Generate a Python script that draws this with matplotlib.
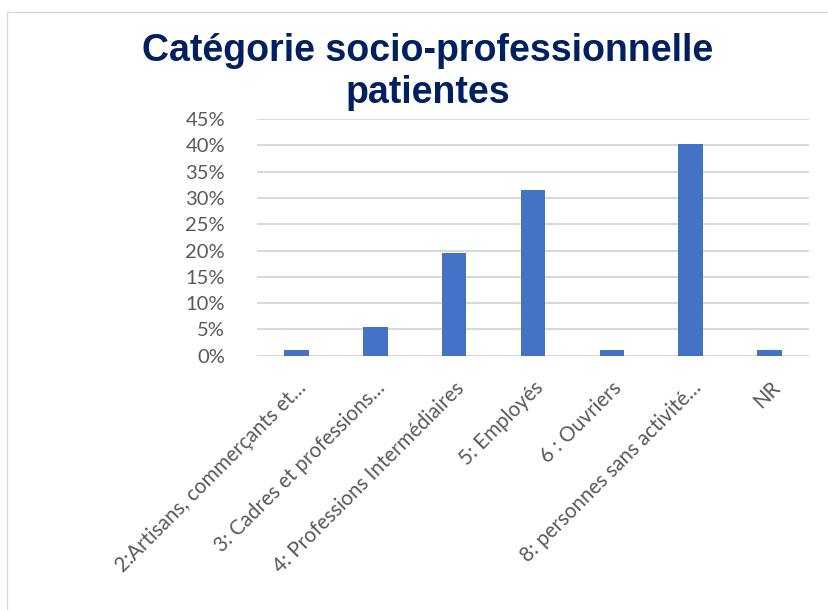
import matplotlib as mpl
mpl.use('Agg')
import matplotlib.pyplot as plt
from matplotlib.patches import Rectangle
from matplotlib.ticker import PercentFormatter, MultipleLocator

# data
categories = ['2:Artisans, commerçants et…', '3: Cadres et professions…',
              '4: Professions Intermédiaires', '5: Employés', '6 : Ouvriers',
              '8: personnes sans activité…', 'NR']
values = [0.011, 0.055, 0.195, 0.315, 0.011, 0.402, 0.011]
title_lines = ['Catégorie socio-professionnelle', 'patientes']

fig = plt.figure(figsize=(8.29, 6.10), dpi=100)

# light chart border like the spreadsheet frame
fig.patches.append(Rectangle((7 / 829, -0.1), 1.0, (610 - 12) / 610 + 0.1,
                             transform=fig.transFigure, fill=False,
                             edgecolor='#D9D9D9', linewidth=1.0))

ax = fig.add_axes([257 / 829, 1 - 355.7 / 610, (809 - 257) / 829, (355.7 - 119) / 610])

x = range(len(categories))
ax.bar(x, values, width=0.31, color='#4472C4', zorder=3)

ax.set_ylim(0, 0.45)
ax.set_xlim(-0.5, len(categories) - 0.5)
ax.yaxis.set_major_locator(MultipleLocator(0.05))
ax.yaxis.set_major_formatter(PercentFormatter(1.0, decimals=0))
ax.grid(axis='y', color='#D9D9D9', linewidth=1.5, zorder=0)
for s in ax.spines.values():
    s.set_visible(False)
ax.tick_params(axis='both', length=0, labelsize=14.5, labelcolor='#595959')
ax.tick_params(axis='y', pad=23)
for lbl in ax.get_yticklabels():
    lbl.set_fontfamily('Lato')

ax.set_xticks(list(x))
ax.set_xticklabels(categories, rotation=45, ha='right', rotation_mode='anchor',
                   fontfamily='Lato', fontsize=14.8, color='#595959')
ax.tick_params(axis='x', pad=16)

# title as two separate lines, centred
for line, yc in zip(title_lines, [51, 93]):
    fig.text(428 / 829, 1 - yc / 610, line, ha='center', va='center',
             fontsize=27, fontweight='bold', color='#002060',
             fontfamily='Liberation Sans')

fig.savefig('out.png', dpi=100)
